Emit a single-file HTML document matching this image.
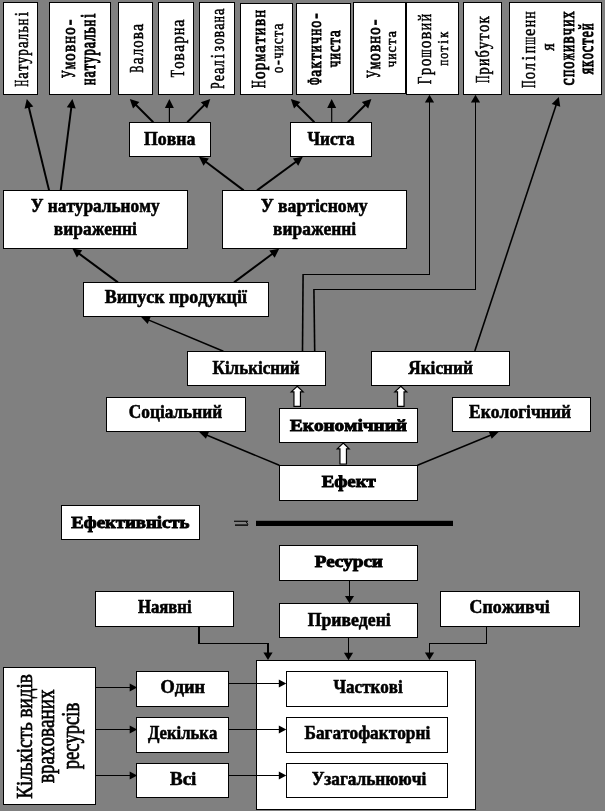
<!DOCTYPE html>
<html><head><meta charset="utf-8"><title>Diagram</title>
<style>html,body{margin:0;padding:0;background:#808080;}svg{display:block}text{fill:#000;font-kerning:none}</style></head>
<body><svg width="605" height="811" viewBox="0 0 605 811" shape-rendering="auto">
<rect width="605" height="811" fill="#808080"/>
<line x1="302.5" y1="351" x2="303.1" y2="274" stroke="#000" stroke-width="1.6"/>
<line x1="314.7" y1="351" x2="313.9" y2="289" stroke="#000" stroke-width="1.6"/>
<polyline points="302.5,274.5 429.5,274.5 429.5,102" fill="none" stroke="#000" stroke-width="1" shape-rendering="crispEdges"/>
<polyline points="313.5,289.5 475.5,289.5 475.5,102" fill="none" stroke="#000" stroke-width="1" shape-rendering="crispEdges"/>
<polygon points="429.5,94.8 424.9,102.5 434.1,102.5" fill="#000"/>
<polygon points="475.5,94.8 470.9,102.5 480.1,102.5" fill="#000"/>
<line x1="474.80" y1="351.00" x2="556.29" y2="104.50" stroke="#000" stroke-width="1.6"/>
<polygon points="558.80,96.90 560.25,106.86 551.70,104.03" fill="#000"/>
<line x1="49.10" y1="190.40" x2="28.69" y2="106.67" stroke="#000" stroke-width="1.95"/>
<polygon points="26.80,98.90 33.30,106.58 24.56,108.71" fill="#000"/>
<line x1="60.70" y1="190.40" x2="71.39" y2="106.84" stroke="#000" stroke-width="1.95"/>
<polygon points="72.40,98.90 75.72,108.40 66.79,107.26" fill="#000"/>
<line x1="153.30" y1="122.20" x2="135.48" y2="104.53" stroke="#000" stroke-width="1.95"/>
<polygon points="129.80,98.90 139.36,102.04 133.02,108.43" fill="#000"/>
<line x1="169.40" y1="122.20" x2="169.40" y2="106.90" stroke="#000" stroke-width="1.2"/>
<polygon points="169.40,98.90 173.90,107.90 164.90,107.90" fill="#000"/>
<line x1="187.30" y1="122.20" x2="204.68" y2="104.59" stroke="#000" stroke-width="1.95"/>
<polygon points="210.30,98.90 207.18,108.47 200.77,102.14" fill="#000"/>
<line x1="314.40" y1="122.20" x2="296.49" y2="104.52" stroke="#000" stroke-width="1.95"/>
<polygon points="290.80,98.90 300.37,102.02 294.04,108.43" fill="#000"/>
<line x1="331.70" y1="122.20" x2="331.70" y2="106.90" stroke="#000" stroke-width="1.2"/>
<polygon points="331.70,98.90 336.20,107.90 327.20,107.90" fill="#000"/>
<line x1="347.90" y1="122.20" x2="365.72" y2="104.53" stroke="#000" stroke-width="1.95"/>
<polygon points="371.40,98.90 368.18,108.43 361.84,102.04" fill="#000"/>
<line x1="243.70" y1="190.40" x2="205.39" y2="161.52" stroke="#000" stroke-width="1.95"/>
<polygon points="199.00,156.70 208.90,158.52 203.48,165.71" fill="#000"/>
<line x1="257.00" y1="190.40" x2="296.36" y2="161.44" stroke="#000" stroke-width="1.95"/>
<polygon points="302.80,156.70 298.22,165.66 292.88,158.41" fill="#000"/>
<line x1="117.90" y1="282.40" x2="78.73" y2="253.36" stroke="#000" stroke-width="1.95"/>
<polygon points="72.30,248.60 82.21,250.34 76.85,257.57" fill="#000"/>
<line x1="234.00" y1="282.40" x2="272.78" y2="253.57" stroke="#000" stroke-width="1.95"/>
<polygon points="279.20,248.80 274.66,257.78 269.29,250.56" fill="#000"/>
<line x1="223.40" y1="351.20" x2="148.28" y2="319.88" stroke="#000" stroke-width="1.6"/>
<polygon points="140.90,316.80 150.75,316.57 147.67,323.96" fill="#000"/>
<line x1="279.30" y1="465.30" x2="206.49" y2="434.98" stroke="#000" stroke-width="1.5"/>
<polygon points="199.10,431.90 208.85,431.90 205.97,438.82" fill="#000"/>
<line x1="417.50" y1="465.30" x2="491.20" y2="434.95" stroke="#000" stroke-width="1.5"/>
<polygon points="498.60,431.90 491.71,438.79 488.85,431.86" fill="#000"/>
<rect x="256" y="520.8" width="197" height="5.2" fill="#000"/>
<rect x="234" y="520.7" width="14" height="1.1" fill="#000"/><rect x="235" y="524.4" width="13" height="1.4" fill="#000"/><path d="M246 521.5L248 524.6" stroke="#000" stroke-width="1" fill="none"/>
<polygon points="349.50,603.30 344.90,595.90 354.10,595.90" fill="#000"/>
<polyline points="349.50,580.50 349.50,596.90" fill="none" stroke="#000" stroke-width="1.0"/>
<polygon points="348.50,660.20 343.90,652.80 353.10,652.80" fill="#000"/>
<polyline points="348.50,637.50 348.50,653.80" fill="none" stroke="#000" stroke-width="1.0"/>
<path d="M198 626H200V643H269V653H267V644H198Z" fill="#000" shape-rendering="crispEdges"/>
<polygon points="268,660 263.4,652.4 272.6,652.4" fill="#000"/>
<polyline points="486.5,626 486.5,643.5 429.5,643.5 429.5,653" fill="none" stroke="#000" stroke-width="1" shape-rendering="crispEdges"/>
<polygon points="429.5,660 424.9,652.4 434.1,652.4" fill="#000"/>
<rect x="3.50" y="2.50" width="34.00" height="92.00" fill="#fff" stroke="#000" stroke-width="1" shape-rendering="crispEdges"/>
<rect x="49.50" y="2.50" width="61.00" height="92.00" fill="#fff" stroke="#000" stroke-width="1" shape-rendering="crispEdges"/>
<rect x="118.50" y="2.50" width="34.00" height="92.00" fill="#fff" stroke="#000" stroke-width="1" shape-rendering="crispEdges"/>
<rect x="158.50" y="2.50" width="35.00" height="92.00" fill="#fff" stroke="#000" stroke-width="1" shape-rendering="crispEdges"/>
<rect x="199.50" y="2.50" width="35.00" height="92.00" fill="#fff" stroke="#000" stroke-width="1" shape-rendering="crispEdges"/>
<rect x="240.50" y="3.50" width="52.00" height="91.00" fill="#fff" stroke="#000" stroke-width="1" shape-rendering="crispEdges"/>
<rect x="296.50" y="3.50" width="54.00" height="91.00" fill="#fff" stroke="#000" stroke-width="1" shape-rendering="crispEdges"/>
<rect x="353.50" y="2.50" width="52.00" height="91.00" fill="#fff" stroke="#000" stroke-width="1" shape-rendering="crispEdges"/>
<rect x="406.50" y="2.50" width="52.00" height="92.00" fill="#fff" stroke="#000" stroke-width="1" shape-rendering="crispEdges"/>
<rect x="463.50" y="2.50" width="38.00" height="92.00" fill="#fff" stroke="#000" stroke-width="1" shape-rendering="crispEdges"/>
<rect x="509.50" y="2.50" width="92.00" height="92.00" fill="#fff" stroke="#000" stroke-width="1" shape-rendering="crispEdges"/>
<rect x="129.50" y="122.50" width="81.00" height="34.00" fill="#fff" stroke="#000" stroke-width="1" shape-rendering="crispEdges"/>
<rect x="290.50" y="122.50" width="81.00" height="34.00" fill="#fff" stroke="#000" stroke-width="1" shape-rendering="crispEdges"/>
<rect x="3.50" y="190.50" width="184.00" height="58.00" fill="#fff" stroke="#000" stroke-width="1" shape-rendering="crispEdges"/>
<rect x="222.50" y="190.50" width="184.00" height="58.00" fill="#fff" stroke="#000" stroke-width="1" shape-rendering="crispEdges"/>
<rect x="83.50" y="282.50" width="185.00" height="34.00" fill="#fff" stroke="#000" stroke-width="1" shape-rendering="crispEdges"/>
<rect x="187.50" y="351.50" width="138.00" height="34.00" fill="#fff" stroke="#000" stroke-width="1" shape-rendering="crispEdges"/>
<rect x="371.50" y="351.50" width="138.00" height="34.00" fill="#fff" stroke="#000" stroke-width="1" shape-rendering="crispEdges"/>
<rect x="106.50" y="397.50" width="139.00" height="34.00" fill="#fff" stroke="#000" stroke-width="1" shape-rendering="crispEdges"/>
<rect x="452.50" y="397.50" width="138.00" height="34.00" fill="#fff" stroke="#000" stroke-width="1" shape-rendering="crispEdges"/>
<rect x="279.50" y="408.50" width="138.00" height="34.00" fill="#fff" stroke="#000" stroke-width="1" shape-rendering="crispEdges"/>
<rect x="279.50" y="465.50" width="138.00" height="35.00" fill="#fff" stroke="#000" stroke-width="1" shape-rendering="crispEdges"/>
<rect x="61.50" y="505.50" width="138.00" height="34.00" fill="#fff" stroke="#000" stroke-width="1" shape-rendering="crispEdges"/>
<rect x="279.50" y="545.50" width="138.00" height="35.00" fill="#fff" stroke="#000" stroke-width="1" shape-rendering="crispEdges"/>
<rect x="279.50" y="603.50" width="138.00" height="34.00" fill="#fff" stroke="#000" stroke-width="1" shape-rendering="crispEdges"/>
<rect x="95.50" y="591.50" width="138.00" height="35.00" fill="#fff" stroke="#000" stroke-width="1" shape-rendering="crispEdges"/>
<rect x="440.50" y="591.50" width="139.00" height="35.00" fill="#fff" stroke="#000" stroke-width="1" shape-rendering="crispEdges"/>
<rect x="256.50" y="660.50" width="219.00" height="149.00" fill="#fff" stroke="#000" stroke-width="1" shape-rendering="crispEdges"/>
<rect x="286.50" y="671.50" width="161.00" height="35.00" fill="#fff" stroke="#000" stroke-width="1" shape-rendering="crispEdges"/>
<rect x="286.50" y="717.50" width="161.00" height="35.00" fill="#fff" stroke="#000" stroke-width="1" shape-rendering="crispEdges"/>
<rect x="286.50" y="763.50" width="161.00" height="34.00" fill="#fff" stroke="#000" stroke-width="1" shape-rendering="crispEdges"/>
<rect x="136.50" y="671.50" width="92.00" height="35.00" fill="#fff" stroke="#000" stroke-width="1" shape-rendering="crispEdges"/>
<rect x="136.50" y="717.50" width="92.00" height="35.00" fill="#fff" stroke="#000" stroke-width="1" shape-rendering="crispEdges"/>
<rect x="136.50" y="763.50" width="92.00" height="34.00" fill="#fff" stroke="#000" stroke-width="1" shape-rendering="crispEdges"/>
<rect x="3.50" y="667.50" width="92.00" height="137.00" fill="#fff" stroke="#000" stroke-width="1" shape-rendering="crispEdges"/>
<polygon points="137.20,687.50 129.70,691.60 129.70,683.40" fill="#000"/>
<polyline points="95.50,687.50 130.70,687.50" fill="none" stroke="#000" stroke-width="1.0"/>
<polygon points="137.20,729.50 129.70,733.60 129.70,725.40" fill="#000"/>
<polyline points="95.50,729.50 130.70,729.50" fill="none" stroke="#000" stroke-width="1.0"/>
<polygon points="137.20,775.50 129.70,779.60 129.70,771.40" fill="#000"/>
<polyline points="95.50,775.50 130.70,775.50" fill="none" stroke="#000" stroke-width="1.0"/>
<polygon points="286.30,683.50 278.80,687.60 278.80,679.40" fill="#000"/>
<polyline points="228.50,683.50 279.80,683.50" fill="none" stroke="#000" stroke-width="1.0"/>
<polygon points="286.30,729.50 278.80,733.60 278.80,725.40" fill="#000"/>
<polyline points="228.50,729.50 279.80,729.50" fill="none" stroke="#000" stroke-width="1.0"/>
<polygon points="286.30,775.50 278.80,779.60 278.80,771.40" fill="#000"/>
<polyline points="228.50,775.50 279.80,775.50" fill="none" stroke="#000" stroke-width="1.0"/>
<polygon points="297.20,386.20 303.15,391.80 300.45,391.80 300.45,406.40 293.95,406.40 293.95,391.80 291.25,391.80" fill="#fff" stroke="#000" stroke-width="1.2" stroke-linejoin="miter"/>
<polygon points="400.80,386.20 406.75,391.80 404.05,391.80 404.05,406.40 397.55,406.40 397.55,391.80 394.85,391.80" fill="#fff" stroke="#000" stroke-width="1.2" stroke-linejoin="miter"/>
<polygon points="343.20,443.00 349.15,448.80 346.45,448.80 346.45,464.00 339.95,464.00 339.95,448.80 337.25,448.80" fill="#fff" stroke="#000" stroke-width="1.2" stroke-linejoin="miter"/>
<g opacity="0.999">
<text transform="translate(144.03,145.00) scale(1.0280,1.0300)" font-family="Liberation Serif" font-weight="bold" font-size="17.3" stroke="#000" stroke-width="0.55">Повна</text>
<text transform="translate(307.47,145.00) scale(0.9922,1.0300)" font-family="Liberation Serif" font-weight="bold" font-size="17.3" stroke="#000" stroke-width="0.55">Чиста</text>
<text transform="translate(30.79,211.70) scale(0.9988,1.0300)" font-family="Liberation Serif" font-weight="bold" font-size="17.3" stroke="#000" stroke-width="0.55">У натуральному</text>
<text transform="translate(53.82,235.00) scale(1.0074,1.0300)" font-family="Liberation Serif" font-weight="bold" font-size="17.3" stroke="#000" stroke-width="0.55">вираженні</text>
<text transform="translate(260.67,211.70) scale(1.0215,1.0300)" font-family="Liberation Serif" font-weight="bold" font-size="17.3" stroke="#000" stroke-width="0.55">У вартісному</text>
<text transform="translate(273.12,235.00) scale(1.0074,1.0300)" font-family="Liberation Serif" font-weight="bold" font-size="17.3" stroke="#000" stroke-width="0.55">вираженні</text>
<text transform="translate(104.68,303.50) scale(1.0370,1.0300)" font-family="Liberation Serif" font-weight="bold" font-size="17.3" stroke="#000" stroke-width="0.55">Випуск продукції</text>
<text transform="translate(212.58,373.50) scale(0.9822,1.0300)" font-family="Liberation Serif" font-weight="bold" font-size="17.3" stroke="#000" stroke-width="0.55">Кількісний</text>
<text transform="translate(408.15,373.50) scale(0.9997,1.0300)" font-family="Liberation Serif" font-weight="bold" font-size="17.3" stroke="#000" stroke-width="0.55">Якісний</text>
<text transform="translate(128.83,417.60) scale(1.0003,1.0300)" font-family="Liberation Serif" font-weight="bold" font-size="17.3" stroke="#000" stroke-width="0.55">Соціальний</text>
<text transform="translate(469.08,417.60) scale(1.0127,1.0300)" font-family="Liberation Serif" font-weight="bold" font-size="17.3" stroke="#000" stroke-width="0.55">Екологічний</text>
<text transform="translate(137.89,613.00) scale(0.9676,1.0300)" font-family="Liberation Serif" font-weight="bold" font-size="17.3" stroke="#000" stroke-width="0.55">Наявні</text>
<text transform="translate(307.63,626.00) scale(1.0232,1.0300)" font-family="Liberation Serif" font-weight="bold" font-size="17.3" stroke="#000" stroke-width="0.55">Приведені</text>
<text transform="translate(469.50,613.00) scale(1.0356,1.0300)" font-family="Liberation Serif" font-weight="bold" font-size="17.3" stroke="#000" stroke-width="0.55">Споживчі</text>
<text transform="translate(160.48,693.00) scale(1.0614,1.0300)" font-family="Liberation Serif" font-weight="bold" font-size="17.3" stroke="#000" stroke-width="0.55">Один</text>
<text transform="translate(148.08,739.30) scale(0.9634,1.0300)" font-family="Liberation Serif" font-weight="bold" font-size="17.3" stroke="#000" stroke-width="0.55">Декілька</text>
<text transform="translate(169.96,784.90) scale(1.1008,1.0300)" font-family="Liberation Serif" font-weight="bold" font-size="17.3" stroke="#000" stroke-width="0.55">Всі</text>
<text transform="translate(333.57,692.80) scale(0.9846,1.0300)" font-family="Liberation Serif" font-weight="bold" font-size="17.3" stroke="#000" stroke-width="0.55">Часткові</text>
<text transform="translate(304.48,738.50) scale(0.9994,1.0300)" font-family="Liberation Serif" font-weight="bold" font-size="17.3" stroke="#000" stroke-width="0.55">Багатофакторні</text>
<text transform="translate(311.68,784.60) scale(1.0006,1.0300)" font-family="Liberation Serif" font-weight="bold" font-size="17.3" stroke="#000" stroke-width="0.55">Узагальнюючі</text>
<text transform="translate(289.92,430.75) scale(1.1475,1.0000)" font-family="Liberation Serif" font-weight="bold" font-size="16.8" stroke="#000" stroke-width="0.9">Економічний</text>
<text transform="translate(321.73,487.15) scale(1.1231,1.0000)" font-family="Liberation Serif" font-weight="bold" font-size="16.8" stroke="#000" stroke-width="0.9">Ефект</text>
<text transform="translate(71.23,527.95) scale(1.1177,1.0000)" font-family="Liberation Serif" font-weight="bold" font-size="16.8" stroke="#000" stroke-width="0.9">Ефективність</text>
<text transform="translate(314.72,567.45) scale(1.1344,1.0000)" font-family="Liberation Serif" font-weight="bold" font-size="16.8" stroke="#000" stroke-width="0.9">Ресурси</text>
<text transform="translate(27.90,86.42) rotate(-90) scale(0.735,1.4396)" font-family="Liberation Serif" font-weight="normal" font-size="12.412" stroke="#000" stroke-width="0.4">Н</text>
<text transform="translate(27.90,78.76) rotate(-90) scale(1.196,1.4396)" font-family="Liberation Serif" font-weight="normal" font-size="12.412" stroke="#000" stroke-width="0.4">а</text>
<text transform="translate(27.90,71.10) rotate(-90) scale(1.215,1.4396)" font-family="Liberation Serif" font-weight="normal" font-size="12.412" stroke="#000" stroke-width="0.4">т</text>
<text transform="translate(27.90,63.44) rotate(-90) scale(1.062,1.4396)" font-family="Liberation Serif" font-weight="normal" font-size="12.412" stroke="#000" stroke-width="0.4">у</text>
<text transform="translate(27.90,55.78) rotate(-90) scale(1.062,1.4396)" font-family="Liberation Serif" font-weight="normal" font-size="12.412" stroke="#000" stroke-width="0.4">р</text>
<text transform="translate(27.90,48.11) rotate(-90) scale(1.196,1.4396)" font-family="Liberation Serif" font-weight="normal" font-size="12.412" stroke="#000" stroke-width="0.4">а</text>
<text transform="translate(27.90,40.45) rotate(-90) scale(1.064,1.4396)" font-family="Liberation Serif" font-weight="normal" font-size="12.412" stroke="#000" stroke-width="0.4">л</text>
<text transform="translate(27.90,32.79) rotate(-90) scale(1.164,1.4396)" font-family="Liberation Serif" font-weight="normal" font-size="12.412" stroke="#000" stroke-width="0.4">ь</text>
<text transform="translate(27.90,25.13) rotate(-90) scale(0.992,1.4396)" font-family="Liberation Serif" font-weight="normal" font-size="12.412" stroke="#000" stroke-width="0.4">н</text>
<text transform="translate(27.90,16.27) rotate(-90) scale(1.220,1.4396)" font-family="Liberation Serif" font-weight="normal" font-size="12.412" stroke="#000" stroke-width="0.4">і</text>
<text transform="translate(74.70,77.91) rotate(-90) scale(0.750,1.3431)" font-family="Liberation Serif" font-weight="normal" font-size="13.987" stroke="#000" stroke-width="0.65">У</text>
<text transform="translate(74.70,69.28) rotate(-90) scale(0.839,1.3431)" font-family="Liberation Serif" font-weight="normal" font-size="13.987" stroke="#000" stroke-width="0.65">м</text>
<text transform="translate(74.70,60.65) rotate(-90) scale(1.062,1.3431)" font-family="Liberation Serif" font-weight="normal" font-size="13.987" stroke="#000" stroke-width="0.65">о</text>
<text transform="translate(74.70,52.01) rotate(-90) scale(1.124,1.3431)" font-family="Liberation Serif" font-weight="normal" font-size="13.987" stroke="#000" stroke-width="0.65">в</text>
<text transform="translate(74.70,43.38) rotate(-90) scale(0.992,1.3431)" font-family="Liberation Serif" font-weight="normal" font-size="13.987" stroke="#000" stroke-width="0.65">н</text>
<text transform="translate(74.70,34.75) rotate(-90) scale(1.062,1.3431)" font-family="Liberation Serif" font-weight="normal" font-size="13.987" stroke="#000" stroke-width="0.65">о</text>
<text transform="translate(74.70,25.24) rotate(-90) scale(1.220,1.3431)" font-family="Liberation Serif" font-weight="normal" font-size="13.987" stroke="#000" stroke-width="0.65">-</text>
<text transform="translate(94.50,84.93) rotate(-90) scale(0.992,1.7570)" font-family="Liberation Serif" font-weight="normal" font-size="11.904" stroke="#000" stroke-width="0.65">н</text>
<text transform="translate(94.50,77.58) rotate(-90) scale(1.196,1.7570)" font-family="Liberation Serif" font-weight="normal" font-size="11.904" stroke="#000" stroke-width="0.65">а</text>
<text transform="translate(94.50,70.23) rotate(-90) scale(1.215,1.7570)" font-family="Liberation Serif" font-weight="normal" font-size="11.904" stroke="#000" stroke-width="0.65">т</text>
<text transform="translate(94.50,62.88) rotate(-90) scale(1.062,1.7570)" font-family="Liberation Serif" font-weight="normal" font-size="11.904" stroke="#000" stroke-width="0.65">у</text>
<text transform="translate(94.50,55.53) rotate(-90) scale(1.062,1.7570)" font-family="Liberation Serif" font-weight="normal" font-size="11.904" stroke="#000" stroke-width="0.65">р</text>
<text transform="translate(94.50,48.19) rotate(-90) scale(1.196,1.7570)" font-family="Liberation Serif" font-weight="normal" font-size="11.904" stroke="#000" stroke-width="0.65">а</text>
<text transform="translate(94.50,40.84) rotate(-90) scale(1.064,1.7570)" font-family="Liberation Serif" font-weight="normal" font-size="11.904" stroke="#000" stroke-width="0.65">л</text>
<text transform="translate(94.50,33.49) rotate(-90) scale(1.164,1.7570)" font-family="Liberation Serif" font-weight="normal" font-size="11.904" stroke="#000" stroke-width="0.65">ь</text>
<text transform="translate(94.50,26.14) rotate(-90) scale(0.992,1.7570)" font-family="Liberation Serif" font-weight="normal" font-size="11.904" stroke="#000" stroke-width="0.65">н</text>
<text transform="translate(94.50,17.65) rotate(-90) scale(1.220,1.7570)" font-family="Liberation Serif" font-weight="normal" font-size="11.904" stroke="#000" stroke-width="0.65">і</text>
<text transform="translate(143.30,72.82) rotate(-90) scale(0.796,1.3718)" font-family="Liberation Serif" font-weight="normal" font-size="13.583" stroke="#000" stroke-width="0.4">В</text>
<text transform="translate(143.30,64.43) rotate(-90) scale(1.196,1.3718)" font-family="Liberation Serif" font-weight="normal" font-size="13.583" stroke="#000" stroke-width="0.4">а</text>
<text transform="translate(143.30,56.05) rotate(-90) scale(1.064,1.3718)" font-family="Liberation Serif" font-weight="normal" font-size="13.583" stroke="#000" stroke-width="0.4">л</text>
<text transform="translate(143.30,47.66) rotate(-90) scale(1.062,1.3718)" font-family="Liberation Serif" font-weight="normal" font-size="13.583" stroke="#000" stroke-width="0.4">о</text>
<text transform="translate(143.30,39.28) rotate(-90) scale(1.124,1.3718)" font-family="Liberation Serif" font-weight="normal" font-size="13.583" stroke="#000" stroke-width="0.4">в</text>
<text transform="translate(143.30,30.89) rotate(-90) scale(1.196,1.3718)" font-family="Liberation Serif" font-weight="normal" font-size="13.583" stroke="#000" stroke-width="0.4">а</text>
<text transform="translate(183.60,77.32) rotate(-90) scale(0.869,1.3619)" font-family="Liberation Serif" font-weight="normal" font-size="13.681" stroke="#000" stroke-width="0.4">Т</text>
<text transform="translate(183.60,68.87) rotate(-90) scale(1.062,1.3619)" font-family="Liberation Serif" font-weight="normal" font-size="13.681" stroke="#000" stroke-width="0.4">о</text>
<text transform="translate(183.60,60.43) rotate(-90) scale(1.124,1.3619)" font-family="Liberation Serif" font-weight="normal" font-size="13.681" stroke="#000" stroke-width="0.4">в</text>
<text transform="translate(183.60,51.98) rotate(-90) scale(1.196,1.3619)" font-family="Liberation Serif" font-weight="normal" font-size="13.681" stroke="#000" stroke-width="0.4">а</text>
<text transform="translate(183.60,43.54) rotate(-90) scale(1.062,1.3619)" font-family="Liberation Serif" font-weight="normal" font-size="13.681" stroke="#000" stroke-width="0.4">р</text>
<text transform="translate(183.60,35.09) rotate(-90) scale(0.992,1.3619)" font-family="Liberation Serif" font-weight="normal" font-size="13.681" stroke="#000" stroke-width="0.4">н</text>
<text transform="translate(183.60,26.65) rotate(-90) scale(1.196,1.3619)" font-family="Liberation Serif" font-weight="normal" font-size="13.681" stroke="#000" stroke-width="0.4">а</text>
<text transform="translate(224.00,88.73) rotate(-90) scale(0.955,1.5750)" font-family="Liberation Serif" font-weight="normal" font-size="11.927" stroke="#000" stroke-width="0.4">Р</text>
<text transform="translate(224.00,81.36) rotate(-90) scale(1.196,1.5750)" font-family="Liberation Serif" font-weight="normal" font-size="11.927" stroke="#000" stroke-width="0.4">е</text>
<text transform="translate(224.00,74.00) rotate(-90) scale(1.196,1.5750)" font-family="Liberation Serif" font-weight="normal" font-size="11.927" stroke="#000" stroke-width="0.4">а</text>
<text transform="translate(224.00,66.64) rotate(-90) scale(1.064,1.5750)" font-family="Liberation Serif" font-weight="normal" font-size="11.927" stroke="#000" stroke-width="0.4">л</text>
<text transform="translate(224.00,58.13) rotate(-90) scale(1.220,1.5750)" font-family="Liberation Serif" font-weight="normal" font-size="11.927" stroke="#000" stroke-width="0.4">і</text>
<text transform="translate(224.00,51.62) rotate(-90) scale(1.220,1.5750)" font-family="Liberation Serif" font-weight="normal" font-size="11.927" stroke="#000" stroke-width="0.4">з</text>
<text transform="translate(224.00,44.55) rotate(-90) scale(1.062,1.5750)" font-family="Liberation Serif" font-weight="normal" font-size="11.927" stroke="#000" stroke-width="0.4">о</text>
<text transform="translate(224.00,37.19) rotate(-90) scale(1.124,1.5750)" font-family="Liberation Serif" font-weight="normal" font-size="11.927" stroke="#000" stroke-width="0.4">в</text>
<text transform="translate(224.00,29.83) rotate(-90) scale(1.196,1.5750)" font-family="Liberation Serif" font-weight="normal" font-size="11.927" stroke="#000" stroke-width="0.4">а</text>
<text transform="translate(224.00,22.47) rotate(-90) scale(0.992,1.5750)" font-family="Liberation Serif" font-weight="normal" font-size="11.927" stroke="#000" stroke-width="0.4">н</text>
<text transform="translate(224.00,15.11) rotate(-90) scale(1.196,1.5750)" font-family="Liberation Serif" font-weight="normal" font-size="11.927" stroke="#000" stroke-width="0.4">а</text>
<text transform="translate(264.70,87.91) rotate(-90) scale(0.735,1.2755)" font-family="Liberation Serif" font-weight="normal" font-size="14.248" stroke="#000" stroke-width="0.65">Н</text>
<text transform="translate(264.70,79.12) rotate(-90) scale(1.062,1.2755)" font-family="Liberation Serif" font-weight="normal" font-size="14.248" stroke="#000" stroke-width="0.65">о</text>
<text transform="translate(264.70,70.32) rotate(-90) scale(1.062,1.2755)" font-family="Liberation Serif" font-weight="normal" font-size="14.248" stroke="#000" stroke-width="0.65">р</text>
<text transform="translate(264.70,61.53) rotate(-90) scale(0.839,1.2755)" font-family="Liberation Serif" font-weight="normal" font-size="14.248" stroke="#000" stroke-width="0.65">м</text>
<text transform="translate(264.70,52.73) rotate(-90) scale(1.196,1.2755)" font-family="Liberation Serif" font-weight="normal" font-size="14.248" stroke="#000" stroke-width="0.65">а</text>
<text transform="translate(264.70,43.94) rotate(-90) scale(1.215,1.2755)" font-family="Liberation Serif" font-weight="normal" font-size="14.248" stroke="#000" stroke-width="0.65">т</text>
<text transform="translate(264.70,35.14) rotate(-90) scale(0.992,1.2755)" font-family="Liberation Serif" font-weight="normal" font-size="14.248" stroke="#000" stroke-width="0.65">и</text>
<text transform="translate(264.70,26.35) rotate(-90) scale(1.124,1.2755)" font-family="Liberation Serif" font-weight="normal" font-size="14.248" stroke="#000" stroke-width="0.65">в</text>
<text transform="translate(264.70,17.55) rotate(-90) scale(0.992,1.2755)" font-family="Liberation Serif" font-weight="normal" font-size="14.248" stroke="#000" stroke-width="0.65">н</text>
<text transform="translate(283.30,73.03) rotate(-90) scale(1.062,1.3833)" font-family="Liberation Serif" font-weight="normal" font-size="11.656" stroke="#000" stroke-width="0.4">о</text>
<text transform="translate(283.30,65.11) rotate(-90) scale(1.220,1.3833)" font-family="Liberation Serif" font-weight="normal" font-size="11.656" stroke="#000" stroke-width="0.4">-</text>
<text transform="translate(283.30,58.64) rotate(-90) scale(1.056,1.3833)" font-family="Liberation Serif" font-weight="normal" font-size="11.656" stroke="#000" stroke-width="0.4">ч</text>
<text transform="translate(283.30,51.44) rotate(-90) scale(0.992,1.3833)" font-family="Liberation Serif" font-weight="normal" font-size="11.656" stroke="#000" stroke-width="0.4">и</text>
<text transform="translate(283.30,44.25) rotate(-90) scale(1.196,1.3833)" font-family="Liberation Serif" font-weight="normal" font-size="11.656" stroke="#000" stroke-width="0.4">с</text>
<text transform="translate(283.30,37.05) rotate(-90) scale(1.215,1.3833)" font-family="Liberation Serif" font-weight="normal" font-size="11.656" stroke="#000" stroke-width="0.4">т</text>
<text transform="translate(283.30,29.86) rotate(-90) scale(1.196,1.3833)" font-family="Liberation Serif" font-weight="normal" font-size="11.656" stroke="#000" stroke-width="0.4">а</text>
<text transform="translate(321.10,85.07) rotate(-90) scale(0.720,1.4433)" font-family="Liberation Serif" font-weight="normal" font-size="13.226" stroke="#000" stroke-width="0.65">Ф</text>
<text transform="translate(321.10,76.65) rotate(-90) scale(1.196,1.4433)" font-family="Liberation Serif" font-weight="normal" font-size="13.226" stroke="#000" stroke-width="0.65">а</text>
<text transform="translate(321.10,68.49) rotate(-90) scale(1.093,1.4433)" font-family="Liberation Serif" font-weight="normal" font-size="13.226" stroke="#000" stroke-width="0.65">к</text>
<text transform="translate(321.10,60.33) rotate(-90) scale(1.215,1.4433)" font-family="Liberation Serif" font-weight="normal" font-size="13.226" stroke="#000" stroke-width="0.65">т</text>
<text transform="translate(321.10,52.16) rotate(-90) scale(0.992,1.4433)" font-family="Liberation Serif" font-weight="normal" font-size="13.226" stroke="#000" stroke-width="0.65">и</text>
<text transform="translate(321.10,44.00) rotate(-90) scale(1.056,1.4433)" font-family="Liberation Serif" font-weight="normal" font-size="13.226" stroke="#000" stroke-width="0.65">ч</text>
<text transform="translate(321.10,35.83) rotate(-90) scale(0.992,1.4433)" font-family="Liberation Serif" font-weight="normal" font-size="13.226" stroke="#000" stroke-width="0.65">н</text>
<text transform="translate(321.10,27.67) rotate(-90) scale(1.062,1.4433)" font-family="Liberation Serif" font-weight="normal" font-size="13.226" stroke="#000" stroke-width="0.65">о</text>
<text transform="translate(321.10,18.68) rotate(-90) scale(1.220,1.4433)" font-family="Liberation Serif" font-weight="normal" font-size="13.226" stroke="#000" stroke-width="0.65">-</text>
<text transform="translate(340.30,67.32) rotate(-90) scale(1.056,1.6098)" font-family="Liberation Serif" font-weight="normal" font-size="12.316" stroke="#000" stroke-width="0.65">ч</text>
<text transform="translate(340.30,59.72) rotate(-90) scale(0.992,1.6098)" font-family="Liberation Serif" font-weight="normal" font-size="12.316" stroke="#000" stroke-width="0.65">и</text>
<text transform="translate(340.30,52.12) rotate(-90) scale(1.196,1.6098)" font-family="Liberation Serif" font-weight="normal" font-size="12.316" stroke="#000" stroke-width="0.65">с</text>
<text transform="translate(340.30,44.52) rotate(-90) scale(1.215,1.6098)" font-family="Liberation Serif" font-weight="normal" font-size="12.316" stroke="#000" stroke-width="0.65">т</text>
<text transform="translate(340.30,36.91) rotate(-90) scale(1.196,1.6098)" font-family="Liberation Serif" font-weight="normal" font-size="12.316" stroke="#000" stroke-width="0.65">а</text>
<text transform="translate(379.50,78.01) rotate(-90) scale(0.750,1.3953)" font-family="Liberation Serif" font-weight="normal" font-size="14.010" stroke="#000" stroke-width="0.65">У</text>
<text transform="translate(379.50,69.37) rotate(-90) scale(0.839,1.3953)" font-family="Liberation Serif" font-weight="normal" font-size="14.010" stroke="#000" stroke-width="0.65">м</text>
<text transform="translate(379.50,60.72) rotate(-90) scale(1.062,1.3953)" font-family="Liberation Serif" font-weight="normal" font-size="14.010" stroke="#000" stroke-width="0.65">о</text>
<text transform="translate(379.50,52.07) rotate(-90) scale(1.124,1.3953)" font-family="Liberation Serif" font-weight="normal" font-size="14.010" stroke="#000" stroke-width="0.65">в</text>
<text transform="translate(379.50,43.42) rotate(-90) scale(0.992,1.3953)" font-family="Liberation Serif" font-weight="normal" font-size="14.010" stroke="#000" stroke-width="0.65">н</text>
<text transform="translate(379.50,34.77) rotate(-90) scale(1.062,1.3953)" font-family="Liberation Serif" font-weight="normal" font-size="14.010" stroke="#000" stroke-width="0.65">о</text>
<text transform="translate(379.50,25.25) rotate(-90) scale(1.220,1.3953)" font-family="Liberation Serif" font-weight="normal" font-size="14.010" stroke="#000" stroke-width="0.65">-</text>
<text transform="translate(395.80,67.33) rotate(-90) scale(1.056,1.2621)" font-family="Liberation Serif" font-weight="normal" font-size="12.084" stroke="#000" stroke-width="0.4">ч</text>
<text transform="translate(395.80,59.87) rotate(-90) scale(0.992,1.2621)" font-family="Liberation Serif" font-weight="normal" font-size="12.084" stroke="#000" stroke-width="0.4">и</text>
<text transform="translate(395.80,52.41) rotate(-90) scale(1.196,1.2621)" font-family="Liberation Serif" font-weight="normal" font-size="12.084" stroke="#000" stroke-width="0.4">с</text>
<text transform="translate(395.80,44.95) rotate(-90) scale(1.215,1.2621)" font-family="Liberation Serif" font-weight="normal" font-size="12.084" stroke="#000" stroke-width="0.4">т</text>
<text transform="translate(395.80,37.49) rotate(-90) scale(1.196,1.2621)" font-family="Liberation Serif" font-weight="normal" font-size="12.084" stroke="#000" stroke-width="0.4">а</text>
<text transform="translate(431.20,84.21) rotate(-90) scale(0.918,1.3029)" font-family="Liberation Serif" font-weight="normal" font-size="14.535" stroke="#000" stroke-width="0.4">Г</text>
<text transform="translate(431.20,75.24) rotate(-90) scale(1.062,1.3029)" font-family="Liberation Serif" font-weight="normal" font-size="14.535" stroke="#000" stroke-width="0.4">р</text>
<text transform="translate(431.20,66.27) rotate(-90) scale(1.062,1.3029)" font-family="Liberation Serif" font-weight="normal" font-size="14.535" stroke="#000" stroke-width="0.4">о</text>
<text transform="translate(431.20,57.47) rotate(-90) scale(0.720,1.3029)" font-family="Liberation Serif" font-weight="normal" font-size="14.535" stroke="#000" stroke-width="0.4">ш</text>
<text transform="translate(431.20,48.32) rotate(-90) scale(1.062,1.3029)" font-family="Liberation Serif" font-weight="normal" font-size="14.535" stroke="#000" stroke-width="0.4">о</text>
<text transform="translate(431.20,39.35) rotate(-90) scale(1.124,1.3029)" font-family="Liberation Serif" font-weight="normal" font-size="14.535" stroke="#000" stroke-width="0.4">в</text>
<text transform="translate(431.20,30.38) rotate(-90) scale(0.992,1.3029)" font-family="Liberation Serif" font-weight="normal" font-size="14.535" stroke="#000" stroke-width="0.4">и</text>
<text transform="translate(431.20,21.41) rotate(-90) scale(0.992,1.3029)" font-family="Liberation Serif" font-weight="normal" font-size="14.535" stroke="#000" stroke-width="0.4">й</text>
<text transform="translate(447.90,65.63) rotate(-90) scale(0.992,1.2933)" font-family="Liberation Serif" font-weight="normal" font-size="11.287" stroke="#000" stroke-width="0.4">п</text>
<text transform="translate(447.90,58.66) rotate(-90) scale(1.062,1.2933)" font-family="Liberation Serif" font-weight="normal" font-size="11.287" stroke="#000" stroke-width="0.4">о</text>
<text transform="translate(447.90,51.70) rotate(-90) scale(1.215,1.2933)" font-family="Liberation Serif" font-weight="normal" font-size="11.287" stroke="#000" stroke-width="0.4">т</text>
<text transform="translate(447.90,43.65) rotate(-90) scale(1.220,1.2933)" font-family="Liberation Serif" font-weight="normal" font-size="11.287" stroke="#000" stroke-width="0.4">і</text>
<text transform="translate(447.90,37.76) rotate(-90) scale(1.093,1.2933)" font-family="Liberation Serif" font-weight="normal" font-size="11.287" stroke="#000" stroke-width="0.4">к</text>
<text transform="translate(489.20,82.92) rotate(-90) scale(0.735,1.3769)" font-family="Liberation Serif" font-weight="normal" font-size="13.754" stroke="#000" stroke-width="0.4">П</text>
<text transform="translate(489.20,74.43) rotate(-90) scale(1.062,1.3769)" font-family="Liberation Serif" font-weight="normal" font-size="13.754" stroke="#000" stroke-width="0.4">р</text>
<text transform="translate(489.20,65.94) rotate(-90) scale(0.992,1.3769)" font-family="Liberation Serif" font-weight="normal" font-size="13.754" stroke="#000" stroke-width="0.4">и</text>
<text transform="translate(489.20,57.45) rotate(-90) scale(1.043,1.3769)" font-family="Liberation Serif" font-weight="normal" font-size="13.754" stroke="#000" stroke-width="0.4">б</text>
<text transform="translate(489.20,48.96) rotate(-90) scale(1.062,1.3769)" font-family="Liberation Serif" font-weight="normal" font-size="13.754" stroke="#000" stroke-width="0.4">у</text>
<text transform="translate(489.20,40.47) rotate(-90) scale(1.215,1.3769)" font-family="Liberation Serif" font-weight="normal" font-size="13.754" stroke="#000" stroke-width="0.4">т</text>
<text transform="translate(489.20,31.98) rotate(-90) scale(1.062,1.3769)" font-family="Liberation Serif" font-weight="normal" font-size="13.754" stroke="#000" stroke-width="0.4">о</text>
<text transform="translate(489.20,23.49) rotate(-90) scale(1.093,1.3769)" font-family="Liberation Serif" font-weight="normal" font-size="13.754" stroke="#000" stroke-width="0.4">к</text>
<text transform="translate(534.80,87.91) rotate(-90) scale(0.735,1.3516)" font-family="Liberation Serif" font-weight="normal" font-size="14.011" stroke="#000" stroke-width="0.4">П</text>
<text transform="translate(534.80,79.26) rotate(-90) scale(1.062,1.3516)" font-family="Liberation Serif" font-weight="normal" font-size="14.011" stroke="#000" stroke-width="0.4">о</text>
<text transform="translate(534.80,70.62) rotate(-90) scale(1.064,1.3516)" font-family="Liberation Serif" font-weight="normal" font-size="14.011" stroke="#000" stroke-width="0.4">л</text>
<text transform="translate(534.80,60.62) rotate(-90) scale(1.220,1.3516)" font-family="Liberation Serif" font-weight="normal" font-size="14.011" stroke="#000" stroke-width="0.4">і</text>
<text transform="translate(534.80,53.32) rotate(-90) scale(0.992,1.3516)" font-family="Liberation Serif" font-weight="normal" font-size="14.011" stroke="#000" stroke-width="0.4">п</text>
<text transform="translate(534.80,44.84) rotate(-90) scale(0.720,1.3516)" font-family="Liberation Serif" font-weight="normal" font-size="14.011" stroke="#000" stroke-width="0.4">ш</text>
<text transform="translate(534.80,36.02) rotate(-90) scale(1.196,1.3516)" font-family="Liberation Serif" font-weight="normal" font-size="14.011" stroke="#000" stroke-width="0.4">е</text>
<text transform="translate(534.80,27.37) rotate(-90) scale(0.992,1.3516)" font-family="Liberation Serif" font-weight="normal" font-size="14.011" stroke="#000" stroke-width="0.4">н</text>
<text transform="translate(534.80,18.72) rotate(-90) scale(0.992,1.3516)" font-family="Liberation Serif" font-weight="normal" font-size="14.011" stroke="#000" stroke-width="0.4">н</text>
<text transform="translate(554.20,50.72) rotate(-90) scale(1.154,1.3914)" font-family="Liberation Serif" font-weight="normal" font-size="13.623" stroke="#000" stroke-width="0.4">я</text>
<text transform="translate(573.50,85.42) rotate(-90) scale(1.196,1.5109)" font-family="Liberation Serif" font-weight="normal" font-size="13.555" stroke="#000" stroke-width="0.65">с</text>
<text transform="translate(573.50,77.05) rotate(-90) scale(0.992,1.5109)" font-family="Liberation Serif" font-weight="normal" font-size="13.555" stroke="#000" stroke-width="0.65">п</text>
<text transform="translate(573.50,68.68) rotate(-90) scale(1.062,1.5109)" font-family="Liberation Serif" font-weight="normal" font-size="13.555" stroke="#000" stroke-width="0.65">о</text>
<text transform="translate(573.50,60.31) rotate(-90) scale(0.768,1.5109)" font-family="Liberation Serif" font-weight="normal" font-size="13.555" stroke="#000" stroke-width="0.65">ж</text>
<text transform="translate(573.50,51.95) rotate(-90) scale(0.992,1.5109)" font-family="Liberation Serif" font-weight="normal" font-size="13.555" stroke="#000" stroke-width="0.65">и</text>
<text transform="translate(573.50,43.58) rotate(-90) scale(1.124,1.5109)" font-family="Liberation Serif" font-weight="normal" font-size="13.555" stroke="#000" stroke-width="0.65">в</text>
<text transform="translate(573.50,35.21) rotate(-90) scale(1.056,1.5109)" font-family="Liberation Serif" font-weight="normal" font-size="13.555" stroke="#000" stroke-width="0.65">ч</text>
<text transform="translate(573.50,26.85) rotate(-90) scale(0.992,1.5109)" font-family="Liberation Serif" font-weight="normal" font-size="13.555" stroke="#000" stroke-width="0.65">и</text>
<text transform="translate(573.50,18.48) rotate(-90) scale(1.062,1.5109)" font-family="Liberation Serif" font-weight="normal" font-size="13.555" stroke="#000" stroke-width="0.65">х</text>
<text transform="translate(592.60,74.33) rotate(-90) scale(1.154,1.8032)" font-family="Liberation Serif" font-weight="normal" font-size="11.962" stroke="#000" stroke-width="0.65">я</text>
<text transform="translate(592.60,66.94) rotate(-90) scale(1.093,1.8032)" font-family="Liberation Serif" font-weight="normal" font-size="11.962" stroke="#000" stroke-width="0.65">к</text>
<text transform="translate(592.60,59.56) rotate(-90) scale(1.062,1.8032)" font-family="Liberation Serif" font-weight="normal" font-size="11.962" stroke="#000" stroke-width="0.65">о</text>
<text transform="translate(592.60,52.18) rotate(-90) scale(1.196,1.8032)" font-family="Liberation Serif" font-weight="normal" font-size="11.962" stroke="#000" stroke-width="0.65">с</text>
<text transform="translate(592.60,44.79) rotate(-90) scale(1.215,1.8032)" font-family="Liberation Serif" font-weight="normal" font-size="11.962" stroke="#000" stroke-width="0.65">т</text>
<text transform="translate(592.60,37.41) rotate(-90) scale(1.196,1.8032)" font-family="Liberation Serif" font-weight="normal" font-size="11.962" stroke="#000" stroke-width="0.65">е</text>
<text transform="translate(592.60,30.02) rotate(-90) scale(0.992,1.8032)" font-family="Liberation Serif" font-weight="normal" font-size="11.962" stroke="#000" stroke-width="0.65">й</text>
<text transform="translate(32.20,798.85) rotate(-90) scale(1,1.2210)" font-family="Liberation Serif" font-weight="normal" font-size="19.137" stroke="#000" stroke-width="0.55">Кількість видів</text>
<text transform="translate(54.00,783.04) rotate(-90) scale(1,1.3012)" font-family="Liberation Serif" font-weight="normal" font-size="19.088" stroke="#000" stroke-width="0.55">врахованих</text>
<text transform="translate(78.80,769.30) rotate(-90) scale(1,1.3818)" font-family="Liberation Serif" font-weight="normal" font-size="18.605" stroke="#000" stroke-width="0.55">ресурсів</text>
</g>
</svg></body></html>
